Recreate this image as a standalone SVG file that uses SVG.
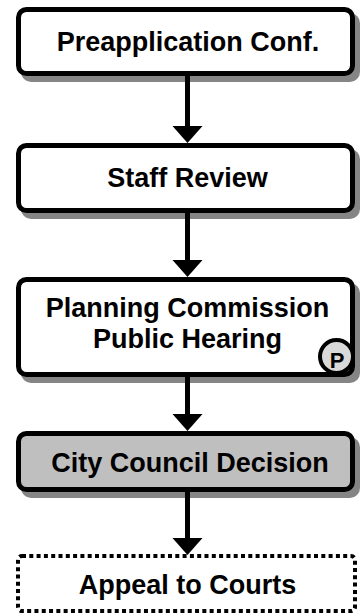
<svg xmlns="http://www.w3.org/2000/svg" width="360" height="616" viewBox="0 0 360 616">
<style>
.box{fill:#fff;stroke:#000;stroke-width:5}
.shadow{fill:#858585}
.gray{fill:#bfbfbf}
.dotted{fill:#fff;stroke:#000;stroke-width:4;stroke-dasharray:4 3.3}
.t{font-family:"Liberation Sans",Arial,sans-serif;font-weight:bold;font-size:27px;text-anchor:middle;fill:#000}
.p{font-family:"Liberation Sans",Arial,sans-serif;font-weight:bold;font-size:22px;text-anchor:middle;fill:#000}
.conn{stroke:#000;stroke-width:5;fill:none}
</style>
<rect width="360" height="616" fill="#fff"/>
<g id="node-preapp">
<rect class="shadow" x="21" y="13" width="339" height="69" rx="10"/>
<rect class="box" x="18.5" y="9.5" width="334" height="64" rx="8"/>
<text class="t" x="188" y="50.5">Preapplication Conf.</text>
</g>
<g id="node-staff">
<rect class="shadow" x="21" y="149" width="339" height="70" rx="10"/>
<rect class="box" x="18.5" y="145.5" width="334" height="65" rx="8"/>
<text class="t" x="187.5" y="187">Staff Review</text>
</g>
<g id="node-planning">
<rect class="shadow" x="21" y="283" width="339" height="100" rx="10"/>
<rect class="box" x="18.5" y="279.5" width="334" height="95" rx="8"/>
<text class="t" x="187.5" y="317">Planning Commission</text>
<text class="t" x="187.5" y="347.5">Public Hearing</text>
<circle cx="336.5" cy="356.5" r="16.5" fill="#d9d9d9" stroke="#000" stroke-width="4"/>
<text class="p" x="337" y="368">P</text>
</g>
<g id="node-council">
<rect class="shadow" x="21" y="437" width="339" height="61" rx="10"/>
<rect class="box gray" x="18.5" y="433.5" width="334" height="56" rx="8"/>
<text class="t" x="190" y="472">City Council Decision</text>
</g>
<g id="node-appeal">
<rect class="dotted" x="18" y="556" width="337" height="55" rx="4"/>
<text class="t" x="187.5" y="593.5">Appeal to Courts</text>
</g>
<g id="connectors">
<line class="conn" x1="187.5" y1="76" x2="187.5" y2="128"/>
<polygon points="172.5,126 202.5,126 187.5,143"/>
<line class="conn" x1="187.5" y1="213" x2="187.5" y2="262"/>
<polygon points="172.5,260 202.5,260 187.5,277"/>
<line class="conn" x1="187.5" y1="377" x2="187.5" y2="416"/>
<polygon points="172.5,414 202.5,414 187.5,431"/>
<line class="conn" x1="187.5" y1="492" x2="187.5" y2="540"/>
<polygon points="172.5,538 202.5,538 187.5,555"/>
</g>
</svg>
